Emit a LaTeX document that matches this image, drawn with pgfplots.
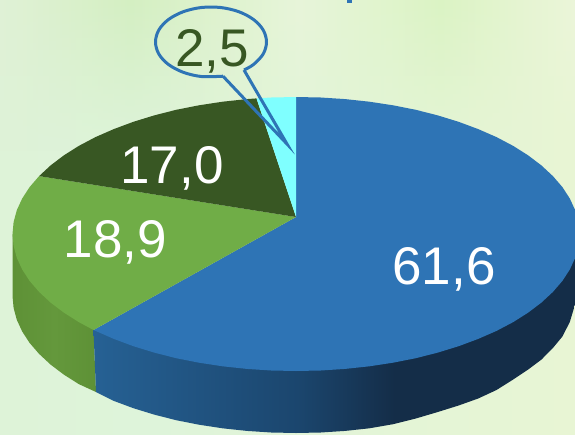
\documentclass[border=0pt]{standalone}
\usepackage{pgfplots}
\pgfplotsset{compat=1.18}
\usetikzlibrary{fadings}
\usepackage{fontspec}
\setmainfont{Liberation Sans}
\definecolor{cblue}{RGB}{46,116,181}
\definecolor{cgreen}{RGB}{112,173,71}
\definecolor{cdark}{RGB}{56,87,35}
\definecolor{ccyan}{RGB}{127,255,255}
\definecolor{ta}{RGB}{224,241,214}
\definecolor{tb}{RGB}{212,239,194}
\definecolor{tc}{RGB}{226,243,210}
\definecolor{td}{RGB}{232,245,218}
\definecolor{te}{RGB}{219,243,196}
\definecolor{tf}{RGB}{236,245,218}
\definecolor{ba}{RGB}{222,243,216}
\definecolor{bb}{RGB}{222,244,218}
\definecolor{bc}{RGB}{232,245,212}
\definecolor{sa}{RGB}{38,97,148}
\definecolor{sb}{RGB}{27,70,110}
\definecolor{sc}{RGB}{20,45,72}
\definecolor{ga}{RGB}{100,152,60}
\definecolor{gb}{RGB}{94,145,54}
% stops: 25bp + 50bp * (x - xleft) / (xright - xleft)
\pgfdeclarehorizontalshading{bgtop}{100bp}{color(0bp)=(ta); color(25bp)=(ta); color(36.3bp)=(tb); color(46.7bp)=(tc); color(51bp)=(td); color(63.3bp)=(te); color(75bp)=(tf); color(100bp)=(tf)}
\pgfdeclarehorizontalshading{bgbot}{100bp}{color(0bp)=(ba); color(25bp)=(ba); color(38bp)=(bb); color(75bp)=(bc); color(100bp)=(bc)}
\pgfdeclarehorizontalshading{blueside}{100bp}{color(0bp)=(sa); color(25bp)=(sa); color(46bp)=(sb); color(56bp)=(sc); color(100bp)=(sc)}
\pgfdeclarehorizontalshading{greenside}{100bp}{color(0bp)=(gb); color(25bp)=(gb); color(50bp)=(ga); color(75bp)=(gb); color(100bp)=(gb)}
\begin{document}
\begin{tikzpicture}
\begin{axis}[scale only axis,width=575pt,height=434pt,xmin=0,xmax=575,ymin=0,ymax=434,y dir=reverse,hide axis]
% background
\addplot[shading=bgbot,draw=none] coordinates {(0,0)(575,0)(575,434)(0,434)} -- cycle;
\addplot[shading=bgtop,draw=none,path fading=south,fit fading=true] coordinates {(0,0)(575,0)(575,150)(0,150)} -- cycle;
\addplot[fill=cblue,draw=none] coordinates {(347,0)(352,0)(352,3)(347,3)} -- cycle;
% sides
\addplot[shading=greenside,draw=none] coordinates {(93.5,330)(96,392)(78.8,384.1)(63.8,374.6)(50.5,364.5)(39.1,353.9)(29.6,342.9)(22.2,331.5)(16.8,319.8)(13.6,307.9)(12.5,296)(12.5,234)} -- cycle;
\addplot[shading=blueside,draw=none] coordinates {(93.5,330)(96,392)(113.8,400.9)(133.4,408.2)(154.2,414.6)(176.2,420.2)(199.0,424.7)(222.6,428.3)(246.8,430.9)(271.3,432.5)(296,433)(320.7,432.5)(345.2,430.9)(369.4,428.3)(393,424.2)(415.8,418.5)(437.8,412)(458.6,405.5)(478.2,398.5)(496.5,390)(513.2,379.5)(528.2,369.5)(541.5,359.5)(552.9,348)(562.4,336.5)(569.8,322)(575.2,304)(578,290)(579.5,270)(579.5,234)} -- cycle;
% top faces
\addplot[fill=cblue,draw=none] coordinates {(296,217)(296,97)(320.7,97.5)(345.2,99.1)(369.4,101.7)(393.0,105.3)(415.8,109.8)(437.8,115.4)(458.6,121.8)(478.2,129.1)(496.5,137.1)(513.2,145.9)(528.2,155.4)(541.5,165.5)(552.9,176.1)(562.4,187.1)(569.8,198.5)(575.2,210.2)(578.4,222.1)(579.5,234)(578.4,245.9)(575.2,257.8)(569.8,269.5)(562.4,280.9)(552.9,291.9)(541.5,302.5)(528.2,312.6)(513.2,322.1)(496.5,330.9)(478.2,338.9)(458.6,346.2)(437.8,352.6)(415.8,358.2)(393.0,362.7)(369.4,366.3)(345.2,368.9)(320.7,370.5)(296,371)(271.3,370.5)(246.8,368.9)(222.6,366.3)(199.0,362.7)(176.2,358.2)(154.2,352.6)(133.4,346.2)(113.8,338.9)(93.5,330)} -- cycle;
\addplot[fill=cgreen,draw=none] coordinates {(296,217)(93.5,330)(78.8,322.1)(63.8,312.6)(50.5,302.5)(39.1,291.9)(29.6,280.9)(22.2,269.5)(16.8,257.8)(13.6,245.9)(12.5,234)(13.6,222.1)(16.8,210.2)(22.2,198.5)(29.6,187.1)(39.1,176.1)} -- cycle;
\addplot[fill=cdark,draw=none] coordinates {(296,217)(39.1,176.1)(50.5,165.5)(63.8,155.4)(78.8,145.9)(95.5,137.1)(113.8,129.1)(133.4,121.8)(154.2,115.4)(176.2,109.8)(199.0,105.3)(222.6,101.7)(246.8,99.1)(256.5,98.4)} -- cycle;
\addplot[fill=ccyan,draw=none] coordinates {(296,217)(256.5,98.4)(271.3,97.5)(296,97)} -- cycle;
% callout
\addplot[cblue,line width=3pt,line join=round,smooth,tension=0.55] coordinates {(244,70)(253.5,64.5)(263.2,54)(266.5,42)(263.2,30)(253.5,19.5)(238.8,11.7)(220.6,7.5)(201.4,7.5)(183.3,11.7)(168.5,19.5)(158.8,30)(155.5,42)(158.8,54)(168.5,64.5)(183.3,72.3)(201.4,76.5)(223,76.2)};
\addplot[cblue,line width=3pt,line join=miter,miter limit=20] coordinates {(223,76.2)(287,144)(244,70)};
% labels
\node[anchor=base,inner sep=0pt,text=white] at (axis cs:444,284) {\fontsize{53}{60}\selectfont 61,6};
\node[anchor=base,inner sep=0pt,text=white] at (axis cs:172,183) {\fontsize{53}{60}\selectfont 17,0};
\node[anchor=base,inner sep=0pt,text=white] at (axis cs:115.5,257) {\fontsize{53}{60}\selectfont 18,9};
\node[anchor=base,inner sep=0pt,text=cdark] at (axis cs:212,66) {\fontsize{53}{60}\selectfont 2,5};
\end{axis}
\end{tikzpicture}
\end{document}
